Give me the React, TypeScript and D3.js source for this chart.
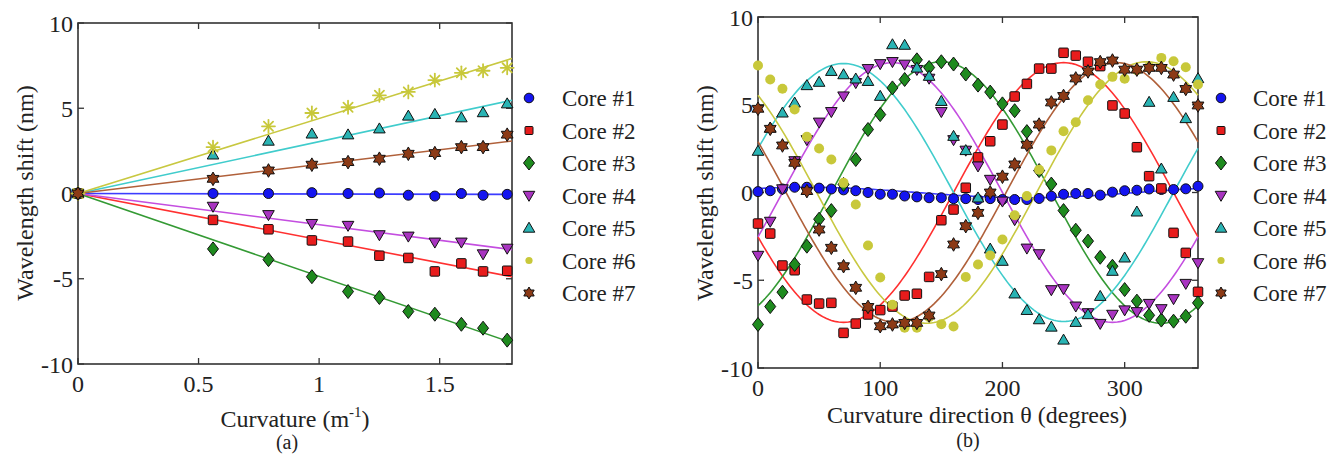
import React from 'react';
import * as d3 from 'd3';

// ---------- Panel (a): wavelength shift vs curvature ----------
const curvature = [0, 0.56, 0.79, 0.97, 1.12, 1.25, 1.37, 1.48, 1.59, 1.68, 1.78];
const core1A = [0, 0, 0, 0.05, 0, 0.03, -0.1, -0.15, 0, -0.1, -0.05];
const core2A = [0, -1.55, -2.1, -2.75, -2.82, -3.65, -3.78, -4.57, -4.1, -4.57, -4.53];
const core3A = [0, -3.25, -3.88, -4.88, -5.75, -6.1, -6.92, -7.08, -7.67, -7.9, -8.6];
const core4A = [0, -0.76, -1.25, -1.77, -1.88, -2.43, -2.51, -2.86, -2.86, -3.55, -3.22];
const core5A = [0, 2.27, 3.08, 3.5, 3.45, 3.8, 4.55, 4.65, 4.45, 4.75, 5.27];
const core6A = [0, 2.72, 3.94, 4.72, 5.06, 5.76, 5.96, 6.65, 7.08, 7.2, 7.37];
const core7A = [0, 0.86, 1.35, 1.69, 1.84, 2.04, 2.33, 2.37, 2.72, 2.72, 3.45];
const fitStartCurv = 0;
const fitEndCurv = 1.8;
const fitEndA = [-0.05, -4.88, -8.75, -3.29, 5.47, 7.92, 3.08];

// ---------- Panel (b): wavelength shift vs curvature direction ----------
const theta = [0, 10, 20, 30, 40, 50, 60, 70, 80, 90, 100, 110, 120, 130, 140, 150, 160, 170, 180,
  190, 200, 210, 220, 230, 240, 250, 260, 270, 280, 290, 300, 310, 320, 330, 340, 350, 360];
const core1B = [0.05, 0.1, 0.2, 0.3, 0.3, 0.25, 0.2, 0.15, 0.1, 0, -0.1, -0.1, -0.2, -0.25, -0.3, -0.3, -0.35, -0.35, -0.4,
  -0.35, -0.4, -0.4, -0.4, -0.34, -0.21, -0.1, -0.06, -0.06, -0.15, 0.02, 0.1, 0.13, 0.2, 0.17, 0.17, 0.21, 0.36];
const core2B = [-1.77, -2.34, -4.16, -4.43, -6.1, -6.33, -6.29, -8.0, -7.47, -6.95, -6.7, -6.5, -5.87, -5.77, -4.81, -1.58, -0.97, 0.27, 2.0,
  2.92, 3.87, 5.47, 6.19, 7.06, 7.06, 7.96, 7.8, 7.45, 7.2, 4.96, 4.5, 2.58, 0.93, 0.23, -2.3, -3.44, -5.66];
const core3B = [-7.52, -6.5, -5.68, -4.1, -3.06, -1.52, -1.03, 0.46, 1.88, 3.59, 4.44, 5.96, 6.44, 7.56, 7.12, 7.45, 7.32, 6.75, 6.12,
  5.72, 5.05, 4.66, 3.47, 1.25, 0.48, -1.03, -2.15, -2.77, -3.69, -4.2, -5.53, -6.19, -7.0, -7.27, -7.33, -7.05, -6.29];
const core4B = [-3.59, -1.65, 0.2, 1.8, 3.0, 4.0, 4.6, 5.49, 6.25, 7.05, 7.33, 7.45, 7.3, 7.0, 6.5, 4.6, 3.0, 2.4, 1.5,
  0.74, -0.5, -1.56, -3.18, -3.5, -5.55, -5.49, -6.48, -6.86, -7.47, -6.95, -6.7, -6.8, -6.33, -6.63, -6.06, -5.19, -4.01];
const core5B = [2.36, 3.68, 4.54, 5.11, 6.1, 6.29, 6.91, 6.72, 6.48, 6.34, 5.49, 8.43, 8.4, 7.1, 6.63, 5.2, 3.21, 2.4, -0.3,
  -3.21, -3.91, -5.77, -6.71, -7.24, -7.66, -8.4, -7.39, -6.95, -5.91, -4.48, -3.72, -1.1, 5.15, 1.35, 5.43, 4.22, 6.5];
const core6B = [7.24, 6.44, 5.91, 4.73, 3.17, 2.51, 1.88, 0.55, -0.68, -3.02, -4.84, -6.4, -7.71, -7.71, -7.1, -7.5, -7.64, -4.81, -4.1,
  -3.59, -2.68, -1.3, -0.2, 1.3, 2.4, 3.49, 4.0, 5.26, 6.15, 6.59, 6.48, 6.97, 7.16, 7.67, 7.48, 7.14, 6.15];
const core7B = [4.77, 3.63, 2.68, 1.69, 0.08, -2.11, -3.15, -4.2, -5.43, -6.52, -7.62, -7.52, -7.43, -7.43, -7.01, -4.65, -2.96, -1.92, -1.16,
  0.0, 0.9, 1.6, 2.72, 3.87, 5.13, 5.5, 6.5, 6.9, 7.43, 7.52, 7.0, 7.0, 7.1, 7.1, 6.72, 5.9, 4.96];
// sinusoidal fit parameters (amplitude nm, phase of peak in degrees)
const fitAmpB = [0.3, 7.4, 7.45, 7.4, 7.35, 7.45, 7.4];
const fitPhaseB = [40, 250, 150, 110, 70, 318, 293];

const coreNames = ['Core #1', 'Core #2', 'Core #3', 'Core #4', 'Core #5', 'Core #6', 'Core #7'];
const xTicksA = [0, 0.5, 1, 1.5];
const xTickLabelsA = ['0', '0.5', '1', '1.5'];
const xTicksB = [0, 100, 200, 300];
const xTickLabelsB = ['0', '100', '200', '300'];
const yTicks = [-10, -5, 0, 5, 10];
const yTickLabels = ['-10', '-5', '0', '5', '10'];

const seriesA = [core1A, core2A, core3A, core4A, core5A, core6A, core7A];
const seriesB = [core1B, core2B, core3B, core4B, core5B, core6B, core7B];

const markerFill = ['#1414f0', '#e81c1c', '#1e8a1e', '#a834c0', '#2ab4b4', '#c8c83a', '#8c3a16'];
const lineColor = ['#3c3cff', '#ff3030', '#349a34', '#c44ee0', '#40cccc', '#c8c840', '#b0603a'];

const FONT = 'Liberation Serif';
const txt = { fontFamily: FONT };

function hexagramPath(R: number) {
  const r = R / Math.sqrt(3);
  const pts = d3.range(12).map((k) => {
    const a = -Math.PI / 2 + (k * Math.PI) / 6;
    const rr = k % 2 === 0 ? R : r;
    return [rr * Math.cos(a), rr * Math.sin(a)].map((v) => v.toFixed(2)).join(',');
  });
  return 'M' + pts.join('L') + 'Z';
}

function Marker({ i, x, y, panel, legend }: { i: number; x: number; y: number; panel: 'a' | 'b'; legend?: boolean }) {
  const common = { fill: markerFill[i], stroke: '#111', strokeWidth: 1 };
  const t = `translate(${x},${y})`;
  switch (i) {
    case 0:
      return <circle cx={x} cy={y} r={legend ? 4.8 : 5} {...common} />;
    case 1: {
      const s = legend ? 8 : 9.5;
      return <rect x={x - s / 2} y={y - s / 2} width={s} height={s} rx={1} {...common} />;
    }
    case 2:
      return <path transform={t} d="M0,-7L5.5,0L0,7L-5.5,0Z" {...common} />;
    case 3:
      return <path transform={t} d="M-5.8,-4.2L5.8,-4.2L0,5.8Z" {...common} />;
    case 4:
      return <path transform={t} d="M0,-5.8L5.8,4.2L-5.8,4.2Z" {...common} />;
    case 5:
      if (legend) return <circle cx={x} cy={y} r={3.6} fill={markerFill[5]} />;
      if (panel === 'b') return <circle cx={x} cy={y} r={5} fill={markerFill[5]} />;
      return (
        <g transform={t} stroke={markerFill[5]} strokeWidth={1.8} strokeLinecap="round">
          {[0, 45, 90, 135].map((a) => {
            const rad = (a * Math.PI) / 180;
            const L = 6.5;
            return <line key={a} x1={-L * Math.cos(rad)} y1={-L * Math.sin(rad)} x2={L * Math.cos(rad)} y2={L * Math.sin(rad)} />;
          })}
        </g>
      );
    case 6:
      return <path transform={t} d={hexagramPath(legend ? 6 : 6.8)} {...common} />;
    default:
      return null;
  }
}

function Frame({ x0, x1, y0, y1, xTicks, xLabels, xs, ys }: any) {
  const tl = 6;
  return (
    <g>
      <rect x={x0} y={y0} width={x1 - x0} height={y1 - y0} fill="none" stroke="#333" strokeWidth={1.6} />
      {xTicks.map((v: number, k: number) => (
        <g key={'x' + k}>
          <line x1={xs(v)} x2={xs(v)} y1={y1} y2={y1 - tl} stroke="#333" strokeWidth={1.3} />
          <line x1={xs(v)} x2={xs(v)} y1={y0} y2={y0 + tl} stroke="#333" strokeWidth={1.3} />
          <text x={xs(v)} y={y1 + 28} textAnchor="middle" fontSize={24} fill="#222" style={txt}>{xLabels[k]}</text>
        </g>
      ))}
      {yTicks.map((v, k) => (
        <g key={'y' + k}>
          <line x1={x0} x2={x0 + tl} y1={ys(v)} y2={ys(v)} stroke="#333" strokeWidth={1.3} />
          <line x1={x1} x2={x1 - tl} y1={ys(v)} y2={ys(v)} stroke="#333" strokeWidth={1.3} />
          <text x={x0 - 5} y={ys(v) + 8.5} textAnchor="end" fontSize={24} fill="#222" style={txt}>{yTickLabels[k]}</text>
        </g>
      ))}
    </g>
  );
}

function Legend({ mx, tx, panel }: { mx: number; tx: number; panel: 'a' | 'b' }) {
  const rowY = d3.scaleLinear().domain([0, 6]).range([98, 293]);
  return (
    <g>
      {coreNames.map((name, i) => (
        <g key={name}>
          <Marker i={i} x={mx} y={rowY(i)} panel={panel} legend />
          <text x={tx} y={rowY(i) + 8} fontSize={23} fill="#222" style={txt}>{name}</text>
        </g>
      ))}
    </g>
  );
}

export default function App() {
  // panel (a)
  const xA = d3.scaleLinear().domain([0, 1.8]).range([78, 512]);
  const yA = d3.scaleLinear().domain([-10, 10]).range([364, 23]);
  // panel (b)
  const xB = d3.scaleLinear().domain([0, 360]).range([758, 1198]);
  const yB = d3.scaleLinear().domain([-10, 10]).range([368, 17]);

  const fitLineB = (i: number) => {
    const pts = d3.range(0, 361, 2).map((t) => [t, fitAmpB[i] * Math.cos(((t - fitPhaseB[i]) * Math.PI) / 180)] as [number, number]);
    return d3.line<[number, number]>().x((d) => xB(d[0])).y((d) => yB(d[1]))(pts) || '';
  };

  return (
    <svg width={1331} height={455} style={{ position: 'absolute', left: 0, top: 0, background: '#fff' }}>
      <rect width={1331} height={455} fill="#fff" />

      {/* ---------- Panel (a) ---------- */}
      <Frame x0={78} x1={512} y0={23} y1={364} xTicks={xTicksA} xLabels={xTickLabelsA} xs={xA} ys={yA} />
      {seriesA.map((s, i) => (
        <line key={'fa' + i} x1={xA(fitStartCurv)} y1={yA(0)} x2={xA(fitEndCurv)} y2={yA(fitEndA[i])}
          stroke={lineColor[i]} strokeWidth={1.6} />
      ))}
      {seriesA.map((s, i) => (
        <g key={'ma' + i}>
          {s.map((v, k) => (
            <Marker key={k} i={i} x={xA(curvature[k])} y={yA(v)} panel="a" />
          ))}
        </g>
      ))}
      <text transform="translate(33,193) rotate(-90)" textAnchor="middle" fontSize={24} fill="#222" style={txt}>
        Wavelength shift (nm)
      </text>
      <text x={295} y={427} textAnchor="middle" fontSize={24} fill="#222" style={txt}>
        Curvature (m<tspan fontSize={15} dy={-10}>-1</tspan><tspan dy={10}>)</tspan>
      </text>
      <text x={287} y={449} textAnchor="middle" fontSize={20} fill="#222" style={txt}>(a)</text>
      <Legend mx={529} tx={562} panel="a" />

      {/* ---------- Panel (b) ---------- */}
      <Frame x0={758} x1={1198} y0={17} y1={368} xTicks={xTicksB} xLabels={xTickLabelsB} xs={xB} ys={yB} />
      {seriesB.map((s, i) => (
        <path key={'fb' + i} d={fitLineB(i)} fill="none" stroke={lineColor[i]} strokeWidth={1.6} />
      ))}
      {seriesB.map((s, i) => (
        <g key={'mb' + i}>
          {s.map((v, k) => (
            <Marker key={k} i={i} x={xB(theta[k])} y={yB(v)} panel="b" />
          ))}
        </g>
      ))}
      <text transform="translate(713,193) rotate(-90)" textAnchor="middle" fontSize={24} fill="#222" style={txt}>
        Wavelength shift (nm)
      </text>
      <text x={977} y={423} textAnchor="middle" fontSize={24} fill="#222" style={txt}>
        Curvature direction θ (degrees)
      </text>
      <text x={968} y={447} textAnchor="middle" fontSize={20} fill="#222" style={txt}>(b)</text>
      <Legend mx={1221} tx={1253} panel="b" />
    </svg>
  );
}
